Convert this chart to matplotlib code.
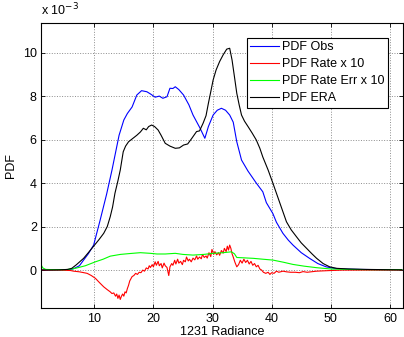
import matplotlib.pyplot as plt
import numpy as np

plt.rc('font', family=['Liberation Sans', 'DejaVu Sans'], size=9)

# PDF Obs (blue)
obs_x = [1, 4, 6, 6.5, 7.5, 8.2, 9, 9.9, 11.0, 12.1, 13.0, 14.2, 15.0, 15.6, 16.4,
         17.2, 18.0, 18.9, 19.5, 20.3, 21, 21.6, 22.3, 22.8, 23.3, 23.7, 24.3, 25.1,
         26.0, 26.7, 27.9, 28.7, 29.3, 30.1, 30.8, 31.5, 32.2, 32.9, 33.5, 34.1, 34.9,
         36.0, 37.4, 38.5, 39.1, 40.2, 40.8, 41.9, 42.8, 43.6, 45, 46.4, 47.8, 49.2,
         50.5, 52, 55, 58, 62]
obs_y = [0, 0.01, 0.03, 0.06, 0.2, 0.46, 0.75, 1.15, 2.3, 3.5, 4.6, 6.2, 6.9, 7.2, 7.5,
         8.05, 8.25, 8.2, 8.1, 7.95, 8.0, 7.9, 7.97, 8.36, 8.35, 8.43, 8.3, 8.05,
         7.6, 7.13, 6.52, 6.06, 6.6, 7.13, 7.35, 7.44, 7.35, 7.13, 6.8, 5.9, 5.06,
         4.55, 4.0, 3.6, 3.1, 2.6, 2.2, 1.69, 1.38, 1.15, 0.8, 0.54, 0.3, 0.15,
         0.08, 0.05, 0.03, 0.02, 0.01]

# PDF Rate x 10 (red)
rate_x = [1, 4, 6, 6.5, 7.5, 8.8, 9.5, 10.2, 10.9, 11.6, 12.2, 12.7, 13.0, 13.3, 13.6,
          13.8, 14.0, 14.2, 14.4, 14.6, 14.8, 15.0, 15.2, 15.4, 15.6, 15.8, 16.0, 16.2,
          16.4, 16.7, 17.0, 17.3, 17.6, 17.9, 18.2, 18.5, 18.8, 19.1, 19.3, 19.5, 19.8,
          20.0, 20.3, 20.5, 20.8, 21.0, 21.3, 21.5, 21.8, 22.0, 22.3, 22.6, 22.8, 23.1,
          23.3, 23.6, 23.8, 24.1, 24.3, 24.6, 24.9, 25.1, 25.4, 25.6, 25.9, 26.1, 26.4,
          26.7, 27.0, 27.3, 27.5, 27.8, 28.1, 28.3, 28.6, 28.9, 29.1, 29.4, 29.7, 29.9,
          30.2, 30.4, 30.7, 31.0, 31.2, 31.5, 31.8, 32.0, 32.3, 32.5, 32.7, 32.9, 33.1,
          33.3, 33.5, 33.8, 34.1, 34.4, 34.7, 35.0, 35.3, 35.6, 35.9, 36.2, 36.5, 36.8,
          37.1, 37.4, 37.7, 38.0, 38.3, 38.6, 39.0, 39.4, 39.7, 40.0, 40.4, 40.8, 41.2,
          41.9, 42.5, 43.2, 44.0, 44.7, 45.3, 46, 47.6, 49, 50, 52, 62]
rate_y = [0, 0, -0.02, -0.05, -0.08, -0.15, -0.25, -0.38, -0.58, -0.77, -0.9, -1.0, -1.08,
          -1.05, -1.2, -1.1, -1.3, -1.15, -1.35, -1.2, -1.1, -1.2, -1.0, -1.05, -0.85,
          -0.7, -0.5, -0.4, -0.3, -0.25, -0.15, -0.2, -0.1, -0.12, 0.0, -0.05, 0.1, 0.05,
          0.2, 0.12, 0.25, 0.15, 0.38, 0.22, 0.4, 0.2, 0.3, 0.1, 0.32, 0.2, 0.12, -0.25,
          0.15, 0.3, 0.22, 0.45, 0.28, 0.5, 0.32, 0.4, 0.25, 0.45, 0.38, 0.6, 0.42, 0.5,
          0.38, 0.55, 0.47, 0.65, 0.5, 0.6, 0.52, 0.72, 0.58, 0.65, 0.55, 0.8, 0.62, 0.95,
          0.72, 0.85, 0.7, 0.8, 0.68, 0.9, 0.78, 1.0, 0.85, 1.1, 0.92, 1.15, 1.0, 0.75,
          0.6, 0.35, 0.15, 0.25, 0.45, 0.32, 0.5, 0.35, 0.45, 0.28, 0.4, 0.22, 0.3, 0.15,
          0.22, 0.05, 0.0, -0.1, -0.15, -0.1, -0.2, -0.12, -0.15, -0.05, -0.1, -0.05,
          -0.08, -0.1, -0.1, -0.12, -0.07, -0.1, -0.05, -0.03, -0.02, 0, 0]

# PDF Rate Err x 10 (green)
err_x = [1, 1.3, 1.8, 3, 5, 6, 7.1, 8.5, 10.2, 11.5, 12.7, 14.4, 16, 17.8, 19.5, 20.6,
         22, 23.7, 25, 26.7, 28.5, 30.1, 31.8, 33.2, 33.7, 34.1, 35.5, 36.9, 38.5, 40.2,
         42, 43.6, 45.5, 47.6, 50, 53, 57, 62]
err_y = [0.25, 0.1, 0.03, 0.02, 0.02, 0.04, 0.1, 0.2, 0.38, 0.5, 0.64, 0.72, 0.76, 0.8,
         0.77, 0.74, 0.74, 0.77, 0.72, 0.69, 0.72, 0.77, 0.8, 0.84, 0.75, 0.58, 0.56,
         0.54, 0.5, 0.46, 0.36, 0.26, 0.18, 0.11, 0.05, 0.03, 0.02, 0.02]

# PDF ERA (black)
era_x = [1, 4, 5.5, 6.2, 7, 8.2, 9.0, 9.9, 10.8, 11.6, 12.2, 12.7, 13.1, 13.5, 14.0, 14.4,
         14.9, 15.3, 15.8, 16.5, 17.2, 17.8, 18.3, 18.8, 19.2, 19.7, 20.2, 20.8, 21.3,
         22.0, 22.8, 23.7, 24.4, 25.1, 25.8, 26.5, 27.3, 27.8, 28.4, 28.9, 29.3, 29.7,
         30.1, 30.6, 31.2, 31.8, 32.4, 32.9, 33.3, 33.7, 34.1, 34.5, 34.9, 35.4, 36.0,
         36.7, 37.4, 38.0, 38.5, 39.4, 40.2, 41.4, 42.5, 43.3, 44.2, 45.0, 45.9, 46.8,
         47.6, 48.7, 49.8, 51, 53, 56, 62]
era_y = [0, 0.01, 0.03, 0.08, 0.25, 0.54, 0.8, 1.1, 1.4, 1.69, 2.0, 2.45, 2.9, 3.53, 4.1,
         4.6, 5.44, 5.7, 5.9, 6.05, 6.2, 6.35, 6.52, 6.45, 6.6, 6.67, 6.6, 6.44, 6.2,
         5.83, 5.7, 5.6, 5.62, 5.75, 5.8, 6.06, 6.37, 6.4, 6.75, 7.1, 7.67, 8.2, 8.74,
         9.2, 9.59, 9.9, 10.16, 10.2, 9.66, 8.9, 8.13, 7.6, 7.13, 6.85, 6.6, 6.3, 5.98,
         5.6, 5.2, 4.6, 4.0, 3.07, 2.22, 1.85, 1.53, 1.25, 1.0, 0.75, 0.54, 0.3, 0.15,
         0.08, 0.05, 0.03, 0.01]

fig = plt.figure(figsize=(4.04, 3.37), dpi=100)
ax = fig.add_axes([0.1015, 0.085, 0.896, 0.846])

s = 1e-3
ax.plot(obs_x, np.array(obs_y) * s, color=(0, 0, 1), lw=0.8, label='PDF Obs')
ax.plot(rate_x, np.array(rate_y) * s, color=(1, 0, 0), lw=0.8, label='PDF Rate x 10')
ax.plot(err_x, np.array(err_y) * s, color=(0, 1, 0), lw=0.8, label='PDF Rate Err x 10')
ax.plot(era_x, np.array(era_y) * s, color='k', lw=0.8, label='PDF ERA')

ax.set_xlim(1, 62.2)
ax.set_ylim(-1.76e-3, 11.35e-3)
ax.set_xticks([10, 20, 30, 40, 50, 60])
yt = [0, 2, 4, 6, 8, 10]
ax.set_yticks(np.array(yt) * s)
ax.set_yticklabels([str(v) for v in yt])
ax.tick_params(direction='in', top=True, right=True, length=3, width=0.6, pad=3)
ax.grid(True, linestyle=':', color='0.55', linewidth=0.7)
for sp in ax.spines.values():
    sp.set_linewidth(0.8)

ax.set_xlabel('1231 Radiance', labelpad=1)
ax.set_ylabel('PDF', labelpad=4)
fig.text(0.102, 0.945, r'x 10$^{-3}$', ha='left', va='bottom')

leg = ax.legend(loc='upper right', bbox_to_anchor=(0.958, 0.95), fancybox=False,
                framealpha=1, edgecolor='k', handlelength=2.3, handletextpad=0.2,
                labelspacing=0.4, borderpad=0.3, borderaxespad=0)
leg.get_frame().set_linewidth(0.8)

fig.savefig('out.png', dpi=100)
